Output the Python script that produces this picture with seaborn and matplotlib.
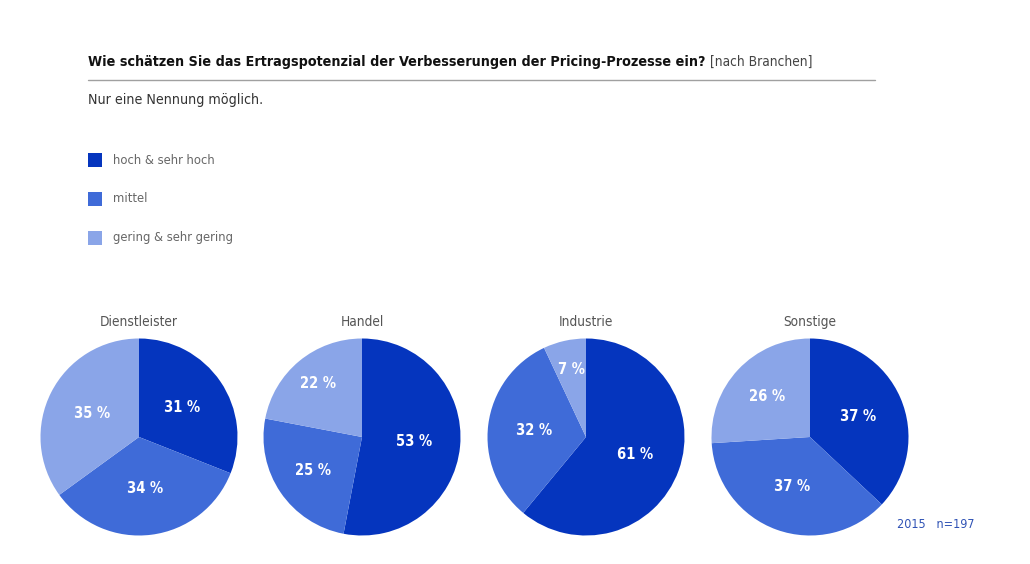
import matplotlib
matplotlib.use('Agg')
import matplotlib.pyplot as plt
import seaborn as sns
from matplotlib.patches import Rectangle
from matplotlib.lines import Line2D

# data
branchen = ['Dienstleister', 'Handel', 'Industrie', 'Sonstige']
kategorien = ['hoch & sehr hoch', 'mittel', 'gering & sehr gering']
hoch = [31, 53, 61, 37]
mittel = [34, 25, 32, 37]
gering = [35, 22, 7, 26]

farben = ['#0535be', '#3f6bd8', '#8aa5e8']

sns.set_theme(style='white')
plt.rcParams['font.family'] = ['DejaVu Sans']
plt.rcParams['font.stretch'] = 'condensed'

W, H = 1030, 564
fig = plt.figure(figsize=(W / 100, H / 100), dpi=100)
fig.patch.set_facecolor('white')


def fx(px):
    return px / W


def fy(py):
    return 1 - py / H


# title
t1 = fig.text(fx(88), fy(62), 'Wie schätzen Sie das Ertragspotenzial der Verbesserungen der Pricing-Prozesse ein?',
              fontsize=10.3, fontweight='bold', color='#111111', va='center', ha='left')
fig.canvas.draw()
bb = t1.get_window_extent()
fig.text(bb.x1 / W + fx(5), fy(62), '[nach Branchen]', fontsize=9.8, color='#444444', va='center', ha='left')
fig.add_artist(Line2D([fx(88), fx(875)], [fy(80), fy(80)], color='#a0a0a0', lw=1.0))
fig.text(fx(88), fy(100), 'Nur eine Nennung möglich.', fontsize=10.2, color='#333333', va='center')

# legend
for i, (kat, col) in enumerate(zip(kategorien, farben)):
    yc = 160 + i * 39
    fig.add_artist(Rectangle((fx(88), fy(yc + 7)), fx(14), 14 / H, color=col, lw=0))
    fig.text(fx(113), fy(yc), kat, fontsize=9.3, color='#666666', va='center')

# pies
centers = [139, 362, 586, 810]
r = 98.5
for name, cx, a, b, c in zip(branchen, centers, hoch, mittel, gering):
    ax = fig.add_axes([fx(cx - r), fy(437 + r), 2 * r / W, 2 * r / H])
    werte = [a, b, c]
    wedges, texts = ax.pie(werte, colors=farben, startangle=90, counterclock=False,
                           labels=[f'{v} %' for v in werte], labeldistance=0.53,
                           textprops=dict(color='white', fontsize=10.5, fontweight='bold', ha='center', va='center'),
                           wedgeprops=dict(linewidth=0))
    # small slices carry their label further out
    for v, t in zip(werte, texts):
        if v < 25:
            x, y = t.get_position()
            t.set_position((x * 0.7 / 0.53, y * 0.7 / 0.53))
        elif v < 30:
            x, y = t.get_position()
            t.set_position((x * 0.6 / 0.53, y * 0.6 / 0.53))
    ax.set_xlim(-1, 1)
    ax.set_ylim(-1, 1)
    ax.set_aspect('equal')
    ax.axis('off')
    fig.text(fx(cx), fy(322), name, fontsize=9.8, color='#555555', ha='center', va='center')

fig.text(fx(897), fy(524), '2015   n=197', fontsize=9, color='#2f52b5', va='center')

fig.savefig('out.png', dpi=100, facecolor='white')
